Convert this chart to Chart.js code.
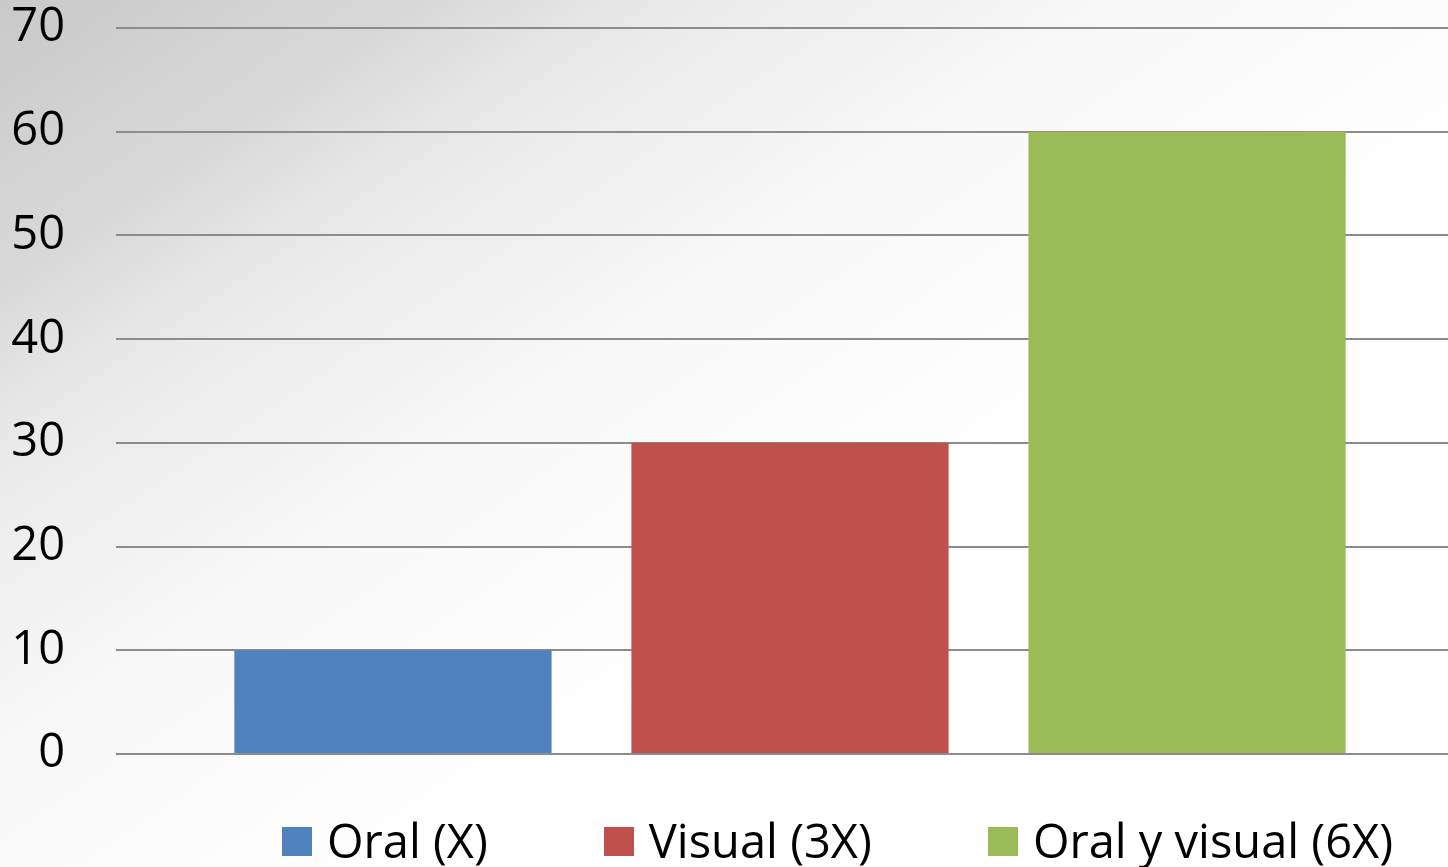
<!DOCTYPE html>
<html>
<head>
<meta charset="utf-8">
<script src="https://cdn.jsdelivr.net/npm/chart.js@4/dist/chart.umd.min.js"></script>
<style>
  html, body { margin: 0; padding: 0; }
  #frame {
    position: relative;
    width: 1448px;
    height: 867px;
    overflow: hidden;
    background: linear-gradient(146deg, #c9c9c9 0%, #d9d9d9 16%, #e5e5e5 22%, #ebebeb 26%, #f7f7f7 40%, #fafafa 46%, #ffffff 62%);
  }
  #box { position: absolute; left: 0; top: 0; width: 1464px; height: 867px; }
  #legend {
    position: absolute;
    left: 282px;
    top: 811px;
    display: flex;
    gap: 116px;
    font-family: "Open Sans", sans-serif;
    font-size: 47px;
    line-height: 58px;
    color: #000;
  }
  .legend-item { display: flex; align-items: center; white-space: nowrap; }
  .legend-swatch { width: 30px; height: 29px; margin-right: 15px; margin-top: 2px; }
</style>
</head>
<body>
<div id="frame">
  <div id="box"><canvas id="barChart"></canvas></div>
  <div id="legend"></div>
</div>
<script>
const CATEGORIES = [''];
const SERIES_NAMES = ['Oral (X)', 'Visual (3X)', 'Oral y visual (6X)'];
const SERIES_VALUES = [[10], [30], [60]];
const SERIES_COLORS = ['#4f81bd', '#c0504d', '#9bbb59'];

const Y_MIN = 0;
const Y_MAX = 70;
const Y_STEP = 10;

// ================================================================
// HTML 범례
// ================================================================

const htmlLegend = {
  id: 'htmlLegend',
  afterUpdate(chart) {
    const box = document.getElementById('legend');
    box.innerHTML = '';
    chart.data.datasets.forEach((ds) => {
      const item = document.createElement('div');
      item.className = 'legend-item';
      item.innerHTML =
        `<span class="legend-swatch" style="background:${ds.backgroundColor}"></span>` +
        `<span>${ds.label}</span>`;
      box.appendChild(item);
    });
  },
};

// ================================================================
// 차트
// ================================================================

const datasets = SERIES_NAMES.map((name, i) => ({
  label: name,
  data: SERIES_VALUES[i],
  backgroundColor: SERIES_COLORS[i],
  borderWidth: 0,
  categoryPercentage: 0.8836,
  barPercentage: 0.799,
}));

const ctx = document.getElementById('barChart').getContext('2d');
const chart = new Chart(ctx, {
  type: 'bar',
  data: { labels: CATEGORIES, datasets },
  plugins: [htmlLegend],
  options: {
    responsive: true,
    maintainAspectRatio: false,
    animation: false,
    layout: { padding: { top: 28, bottom: 113, left: 0, right: 0 } },
    plugins: {
      legend: { display: false },
      tooltip: { enabled: false },
    },
    scales: {
      x: { display: false },
      y: {
        min: Y_MIN,
        max: Y_MAX,
        afterFit: (scale) => {
          scale.width = 116;
          scale.paddingTop = 0;
          scale.paddingBottom = 0;
        },
        border: { display: false },
        grid: { color: '#8c8c8c', lineWidth: 2, drawTicks: false },
        ticks: {
          stepSize: Y_STEP,
          padding: 51,
          color: '#000',
          font: { family: '"Open Sans", sans-serif', size: 47 },
        },
      },
    },
  },
});
</script>
</body>
</html>
